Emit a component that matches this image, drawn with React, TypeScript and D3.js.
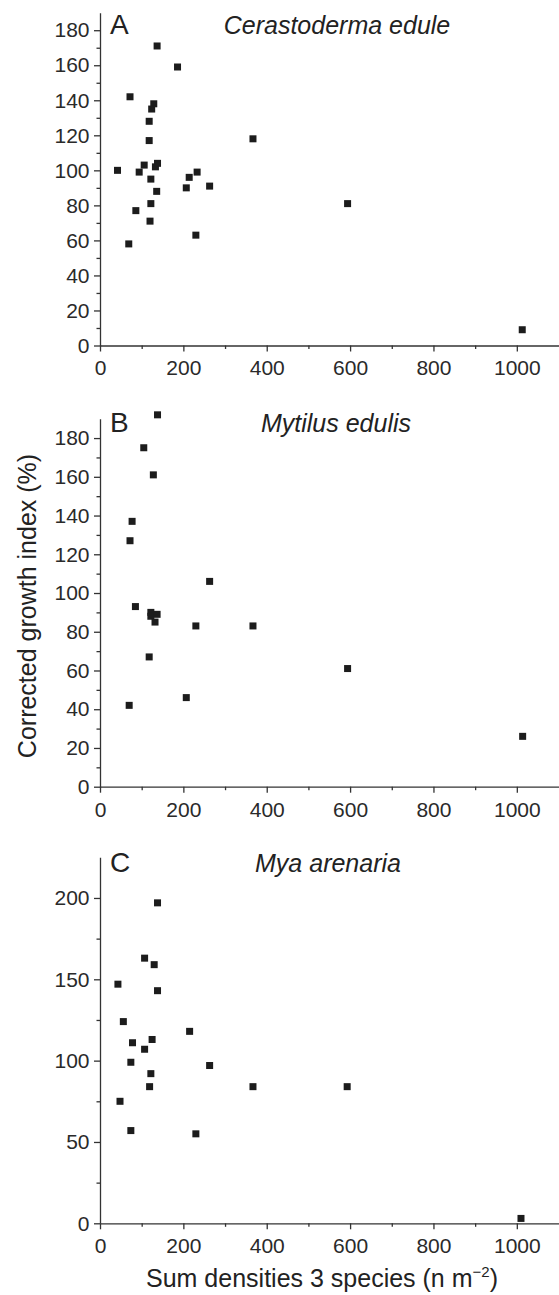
import * as d3 from "d3";
import React, { useEffect, useRef } from "react";

const FONT = "'Liberation Sans', Arial, Helvetica, sans-serif";

// x axis, shared by the three panels
const xMax = 1100;
const xTicks = [0, 200, 400, 600, 800, 1000];
const xMinorTicks = [100, 300, 500, 700, 900];

// A: Cerastoderma edule
const cerastodermaDensity = [137, 186, 72, 129, 124, 118, 118, 367, 42, 94, 106, 133, 138, 122, 214, 233, 207, 263, 136, 122, 594, 86, 120, 230, 69, 1013];
const cerastodermaGrowth = [171, 159, 142, 138, 135, 128, 117, 118, 100, 99, 103, 102, 104, 95, 96, 99, 90, 91, 88, 81, 81, 77, 71, 63, 58, 9];

// B: Mytilus edulis
const mytilusDensity = [138, 105, 128, 77, 72, 263, 85, 122, 122, 137, 132, 230, 367, 118, 594, 207, 70, 1014];
const mytilusGrowth = [192, 175, 161, 137, 127, 106, 93, 90, 88, 89, 85, 83, 83, 67, 61, 46, 42, 26];

// C: Mya arenaria
const myaDensity = [138, 107, 130, 43, 138, 56, 215, 78, 125, 107, 74, 263, 122, 119, 367, 593, 48, 74, 230, 1010];
const myaGrowth = [197, 163, 159, 147, 143, 124, 118, 111, 113, 107, 99, 97, 92, 84, 84, 84, 75, 57, 55, 3];

const yTicksAB = [0, 20, 40, 60, 80, 100, 120, 140, 160, 180];
const yMinorAB = [10, 30, 50, 70, 90, 110, 130, 150, 170];
const yTicksC = [0, 50, 100, 150, 200];
const yMinorC = [25, 75, 125, 175];

const panels = [
  { letter: "A", title: "Cerastoderma edule", xs: cerastodermaDensity, ys: cerastodermaGrowth, yMax: 190, yTicks: yTicksAB, yMinor: yMinorAB, top: 12.7, bottom: 345.5, titleX: 337, titleY: 34 },
  { letter: "B", title: "Mytilus edulis", xs: mytilusDensity, ys: mytilusGrowth, yMax: 190, yTicks: yTicksAB, yMinor: yMinorAB, top: 418.7, bottom: 786.7, titleX: 336, titleY: 432 },
  { letter: "C", title: "Mya arenaria", xs: myaDensity, ys: myaGrowth, yMax: 225, yTicks: yTicksC, yMinor: yMinorC, top: 857.3, bottom: 1223.3, titleX: 328, titleY: 871.5 },
];

const left = 100;
const right = 558.5;

function styleAxis(g) {
  g.attr("font-size", 21).attr("font-family", FONT).style("color", "#2a2a2a");
  g.selectAll("path, line").attr("stroke", "#333").attr("stroke-width", 1.3);
}

function Panel({ p }) {
  const gx = useRef(null);
  const gxMinor = useRef(null);
  const gy = useRef(null);
  const gyMinor = useRef(null);

  const x = d3.scaleLinear().domain([0, xMax]).range([left, right]);
  const y = d3.scaleLinear().domain([0, p.yMax]).range([p.bottom, p.top]);

  useEffect(() => {
    const ax = d3.select(gx.current);
    ax.call(d3.axisBottom(x).tickValues(xTicks).tickFormat(d3.format("d")).tickSize(6).tickPadding(9).tickSizeOuter(0));
    styleAxis(ax);

    const axm = d3.select(gxMinor.current);
    axm.call(d3.axisBottom(x).tickValues(xMinorTicks).tickSize(3.5).tickFormat(() => "").tickSizeOuter(0));
    styleAxis(axm);
    axm.select(".domain").remove();

    const ay = d3.select(gy.current);
    ay.call(d3.axisLeft(y).tickValues(p.yTicks).tickFormat(d3.format("d")).tickSize(6).tickPadding(4.5).tickSizeOuter(0));
    styleAxis(ay);

    const aym = d3.select(gyMinor.current);
    aym.call(d3.axisLeft(y).tickValues(p.yMinor).tickSize(3.5).tickFormat(() => "").tickSizeOuter(0));
    styleAxis(aym);
    aym.select(".domain").remove();
  }, []);

  const size = 7;
  return (
    <g>
      <g ref={gxMinor} transform={`translate(0,${p.bottom})`} />
      <g ref={gx} transform={`translate(0,${p.bottom})`} />
      <g ref={gyMinor} transform={`translate(${left},0)`} />
      <g ref={gy} transform={`translate(${left},0)`} />
      {p.xs.map((v, i) => (
        <rect key={i} x={x(v) - size / 2} y={y(p.ys[i]) - size / 2} width={size} height={size} fill="#1c1c1c" />
      ))}
      <text x={110} y={p.titleY} fontSize={28} fontFamily={FONT} fill="#222">{p.letter}</text>
      <text x={p.titleX} y={p.titleY} fontSize={25} fontFamily={FONT} fontStyle="italic" textAnchor="middle" fill="#222">{p.title}</text>
    </g>
  );
}

export default function App() {
  return (
    <div style={{ position: "absolute", left: 0, top: 0 }}>
      <svg width={559} height={1295} style={{ display: "block", background: "#fff" }}>
        {panels.map((p) => <Panel key={p.letter} p={p} />)}
        <text transform="translate(36,606) rotate(-90)" textAnchor="middle" fontSize={25} fontFamily={FONT} fill="#222">
          Corrected growth index (%)
        </text>
        <text x={322} y={1287} textAnchor="middle" fontSize={25} fontFamily={FONT} fill="#222">
          Sum densities 3 species (n m
          <tspan fontSize={15} dy={-10}>−2</tspan>
          <tspan dy={10}>)</tspan>
        </text>
      </svg>
    </div>
  );
}
